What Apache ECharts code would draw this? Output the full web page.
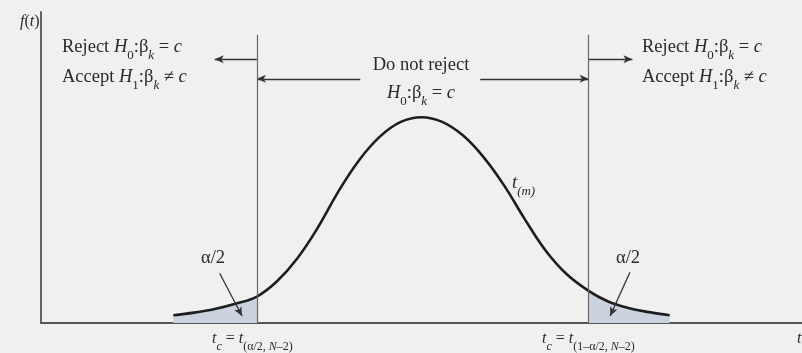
<!DOCTYPE html>
<html>
<head>
<meta charset="utf-8">
<script src="https://cdn.jsdelivr.net/npm/echarts@6/dist/echarts.min.js"></script>
<style>
  html, body { margin: 0; padding: 0; background: #f0f0ee; }
  #chart { width: 802px; height: 353px; }
</style>
</head>
<body>
<div id="chart"></div>
<script>
// t values along the curve and the density f(t) at each
const tValues = [-3, -2.75, -2.5, -2.25, -1.99, -1.75, -1.5, -1.25, -1, -0.75, -0.5, -0.25, 0,
                 0.25, 0.5, 0.75, 1, 1.25, 1.5, 1.75, 2.02, 2.25, 2.5, 2.75, 3];
const density = [0.015, 0.020, 0.027, 0.037, 0.051, 0.080, 0.125, 0.185, 0.255, 0.315, 0.360, 0.388, 0.397,
                 0.388, 0.362, 0.320, 0.265, 0.200, 0.140, 0.095, 0.062, 0.042, 0.029, 0.021, 0.015];

// critical values t_c (lower and upper)
const tCritLow = -1.99;
const tCritHigh = 2.02;

// axis extents
const tMin = -4.6, tMax = 4.6;
const fMax = 0.6;

const curve = tValues.map((t, i) => [t, density[i]]);
const leftTail = curve.filter(p => p[0] <= tCritLow);
const rightTail = curve.filter(p => p[0] >= tCritHigh);

const ink = '#2a2a2a';
const serif = '"Liberation Serif", "DejaVu Serif", serif';

function richStyles(size, subSize, drop) {
  return {
    r: { fontFamily: serif, fontSize: size, color: ink, verticalAlign: 'middle', lineHeight: size + 4 },
    i: { fontFamily: serif, fontSize: size, color: ink, fontStyle: 'italic', verticalAlign: 'middle', lineHeight: size + 4 },
    s: { fontFamily: serif, fontSize: subSize, color: ink, verticalAlign: 'bottom', lineHeight: subSize, padding: [0, 0, -drop, 0] },
    si: { fontFamily: serif, fontSize: subSize, color: ink, fontStyle: 'italic', verticalAlign: 'bottom', lineHeight: subSize, padding: [0, 0, -drop, 0] }
  };
}
const richMain = richStyles(18.5, 13, 4);
const richSmall = richStyles(16, 12, 4);

function label(x, y, text, align, rich) {
  rich = rich || richMain;
  return {
    type: 'text', x: x, y: y, silent: true,
    style: { text: text, rich: rich, align: align || 'left', verticalAlign: 'middle', fill: ink,
             font: rich.r.fontSize + 'px ' + serif }
  };
}

const chart = echarts.init(document.getElementById('chart'), null, { renderer: 'canvas' });
chart.setOption({
  backgroundColor: '#f0f0ee',
  animation: false,
  grid: { left: 41, right: 0, top: 12, bottom: 30 },
  xAxis: {
    type: 'value', min: tMin, max: tMax,
    axisLine: { show: true, onZero: false, lineStyle: { color: '#555', width: 1.8 } },
    axisTick: { show: false }, axisLabel: { show: false }, splitLine: { show: false }
  },
  yAxis: {
    type: 'value', min: 0, max: fMax,
    axisLine: { show: true, onZero: false, lineStyle: { color: '#555', width: 1.8 } },
    axisTick: { show: false }, axisLabel: { show: false }, splitLine: { show: false }
  },
  series: [
    {
      // rejection area, lower tail
      type: 'line', data: leftTail, smooth: 0.4, symbol: 'none',
      lineStyle: { width: 0 }, areaStyle: { color: '#c9d2de', opacity: 1 }, z: 1
    },
    {
      // rejection area, upper tail
      type: 'line', data: rightTail, smooth: 0.4, symbol: 'none',
      lineStyle: { width: 0 }, areaStyle: { color: '#c9d2de', opacity: 1 }, z: 1,
      markLine: {
        silent: true, symbol: ['none', 'arrow'], symbolSize: [6, 9],
        lineStyle: { color: '#333', width: 1.3, type: 'solid' },
        label: { show: false },
        data: [
          [{ coord: [tCritLow, 0.509] }, { coord: [-2.50, 0.509] }],
          [{ coord: [-0.74, 0.471] }, { coord: [tCritLow, 0.471] }],
          [{ coord: [0.71, 0.471] }, { coord: [tCritHigh, 0.471] }],
          [{ coord: [tCritHigh, 0.509] }, { coord: [2.55, 0.509] }],
          [{ coord: [-2.44, 0.096] }, { coord: [-2.17, 0.0135] }],
          [{ coord: [2.52, 0.098] }, { coord: [2.28, 0.0135] }]
        ]
      }
    },
    {
      // density curve
      type: 'line', data: curve, smooth: 0.4, symbol: 'none',
      lineStyle: { color: '#1e1e1e', width: 2.6 }, z: 3,
      markLine: {
        silent: true, symbol: 'none',
        lineStyle: { color: '#666', width: 1.2, type: 'solid' },
        label: { show: false },
        data: [
          [{ coord: [tCritLow, 0] }, { coord: [tCritLow, 0.556] }],
          [{ coord: [tCritHigh, 0] }, { coord: [tCritHigh, 0.556] }]
        ]
      }
    }
  ],
  graphic: [
    label(20, 22, '{i|f}{r|(}{i|t}{r|)}', 'left', richSmall),
    label(62, 47, '{r|Reject }{i|H}{s|0}{r|:β}{si|k}{r| = }{i|c}'),
    label(62, 77, '{r|Accept }{i|H}{s|1}{r|:β}{si|k}{r| ≠ }{i|c}'),
    label(642, 47, '{r|Reject }{i|H}{s|0}{r|:β}{si|k}{r| = }{i|c}'),
    label(642, 77, '{r|Accept }{i|H}{s|1}{r|:β}{si|k}{r| ≠ }{i|c}'),
    label(421, 65, '{r|Do not reject}', 'center'),
    label(421, 93, '{i|H}{s|0}{r|:β}{si|k}{r| = }{i|c}', 'center'),
    label(512, 183, '{i|t}{si|(m)}'),
    label(213, 258, '{r|α/2}', 'center'),
    label(628, 258, '{r|α/2}', 'center'),
    label(212, 339, '{i|t}{si|c}{r| = }{i|t}{s|(α/2, }{si|N}{s|–2)}', 'left', richSmall),
    label(542, 339, '{i|t}{si|c}{r| = }{i|t}{s|(1–α/2, }{si|N}{s|–2)}', 'left', richSmall),
    label(797, 339, '{i|t}', 'left', richSmall)
  ]
});
</script>
</body>
</html>
